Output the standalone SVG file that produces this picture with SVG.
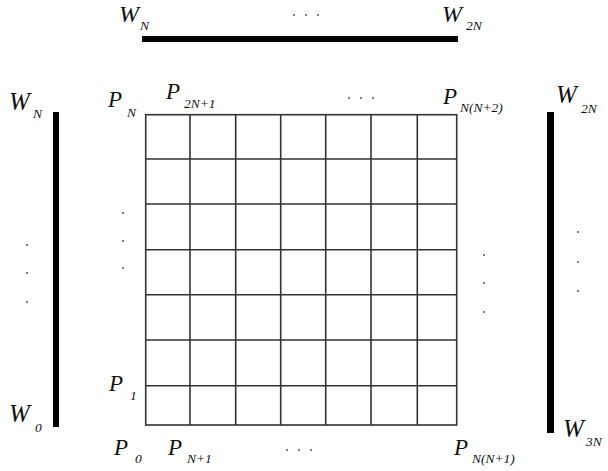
<svg xmlns="http://www.w3.org/2000/svg" width="608" height="471" viewBox="0 0 608 471">
<style>
.m{font-family:"Liberation Serif","Times New Roman",serif;font-style:italic;fill:#111}
.w{font-size:25px}
.wt{font-size:24px}
.p{font-size:23px}
.s{font-size:13.5px}
.bar{fill:#000}
.g{stroke:#333;stroke-width:1.6;fill:none}
</style>
<rect width="608" height="471" fill="#fff"/>
<g id="bars">
<rect id="bar-top" class="bar" x="142" y="36" width="316" height="6"/>
<rect id="bar-left" class="bar" x="53" y="112" width="6" height="315"/>
<rect id="bar-right" class="bar" x="547" y="112" width="7" height="321"/>
</g>
<g id="grid" class="g">
<rect x="145.7" y="114.7" width="311" height="310.3"/>
<path d="M190 114.7V425M235.7 114.7V425M280.7 114.7V425M325.7 114.7V425M371 114.7V425M417.3 114.7V425"/>
<path d="M145.7 159H456.7M145.7 204H456.7M145.7 249.7H456.7M145.7 294.7H456.7M145.7 340H456.7M145.7 385.7H456.7"/>
</g>
<g id="labels-w">
<text class="m wt" x="119" y="22">W<tspan class="s" x="140" y="30">N</tspan></text>
<text class="m wt" x="442" y="22">W<tspan class="s" x="466" y="30">2N</tspan></text>
<text class="m w" x="9" y="110">W<tspan class="s" x="33" y="118">N</tspan></text>
<text class="m w" x="9" y="422">W<tspan class="s" x="35" y="432">0</tspan></text>
<text class="m w" x="556" y="103">W<tspan class="s" x="581" y="113">2N</tspan></text>
<text class="m w" x="563" y="437">W<tspan class="s" x="586" y="446">3N</tspan></text>
</g>
<g id="labels-p">
<text class="m p" x="108" y="107">P<tspan class="s" x="127" y="117">N</tspan></text>
<text class="m p" x="166" y="99">P<tspan class="s" x="184" y="108">2N+1</tspan></text>
<text class="m p" x="443" y="104">P<tspan class="s" x="460" y="112">N(N+2)</tspan></text>
<text class="m p" x="109" y="391">P<tspan class="s" x="130" y="400">1</tspan></text>
<text class="m p" x="114" y="455">P<tspan class="s" x="135" y="463">0</tspan></text>
<text class="m p" x="168" y="455">P<tspan class="s" x="187" y="463">N+1</tspan></text>
<text class="m p" x="454" y="455">P<tspan class="s" x="472" y="463">N(N+1)</tspan></text>
</g>
<g id="dots" fill="#555">
<circle cx="294" cy="15" r="1"/><circle cx="306" cy="15" r="1"/><circle cx="318" cy="15" r="1"/>
<circle cx="349" cy="98" r="1"/><circle cx="361" cy="98" r="1"/><circle cx="373" cy="98" r="1"/>
<circle cx="287" cy="450" r="1"/><circle cx="299" cy="450" r="1"/><circle cx="311" cy="450" r="1"/>
<circle cx="27" cy="245" r="1"/><circle cx="27" cy="273" r="1"/><circle cx="27" cy="302" r="1"/>
<circle cx="123" cy="213" r="1"/><circle cx="123" cy="241" r="1"/><circle cx="123" cy="268" r="1"/>
<circle cx="484" cy="255" r="1"/><circle cx="484" cy="283" r="1"/><circle cx="484" cy="312" r="1"/>
<circle cx="578" cy="232" r="1"/><circle cx="578" cy="262" r="1"/><circle cx="578" cy="291" r="1"/>
</g>
</svg>
